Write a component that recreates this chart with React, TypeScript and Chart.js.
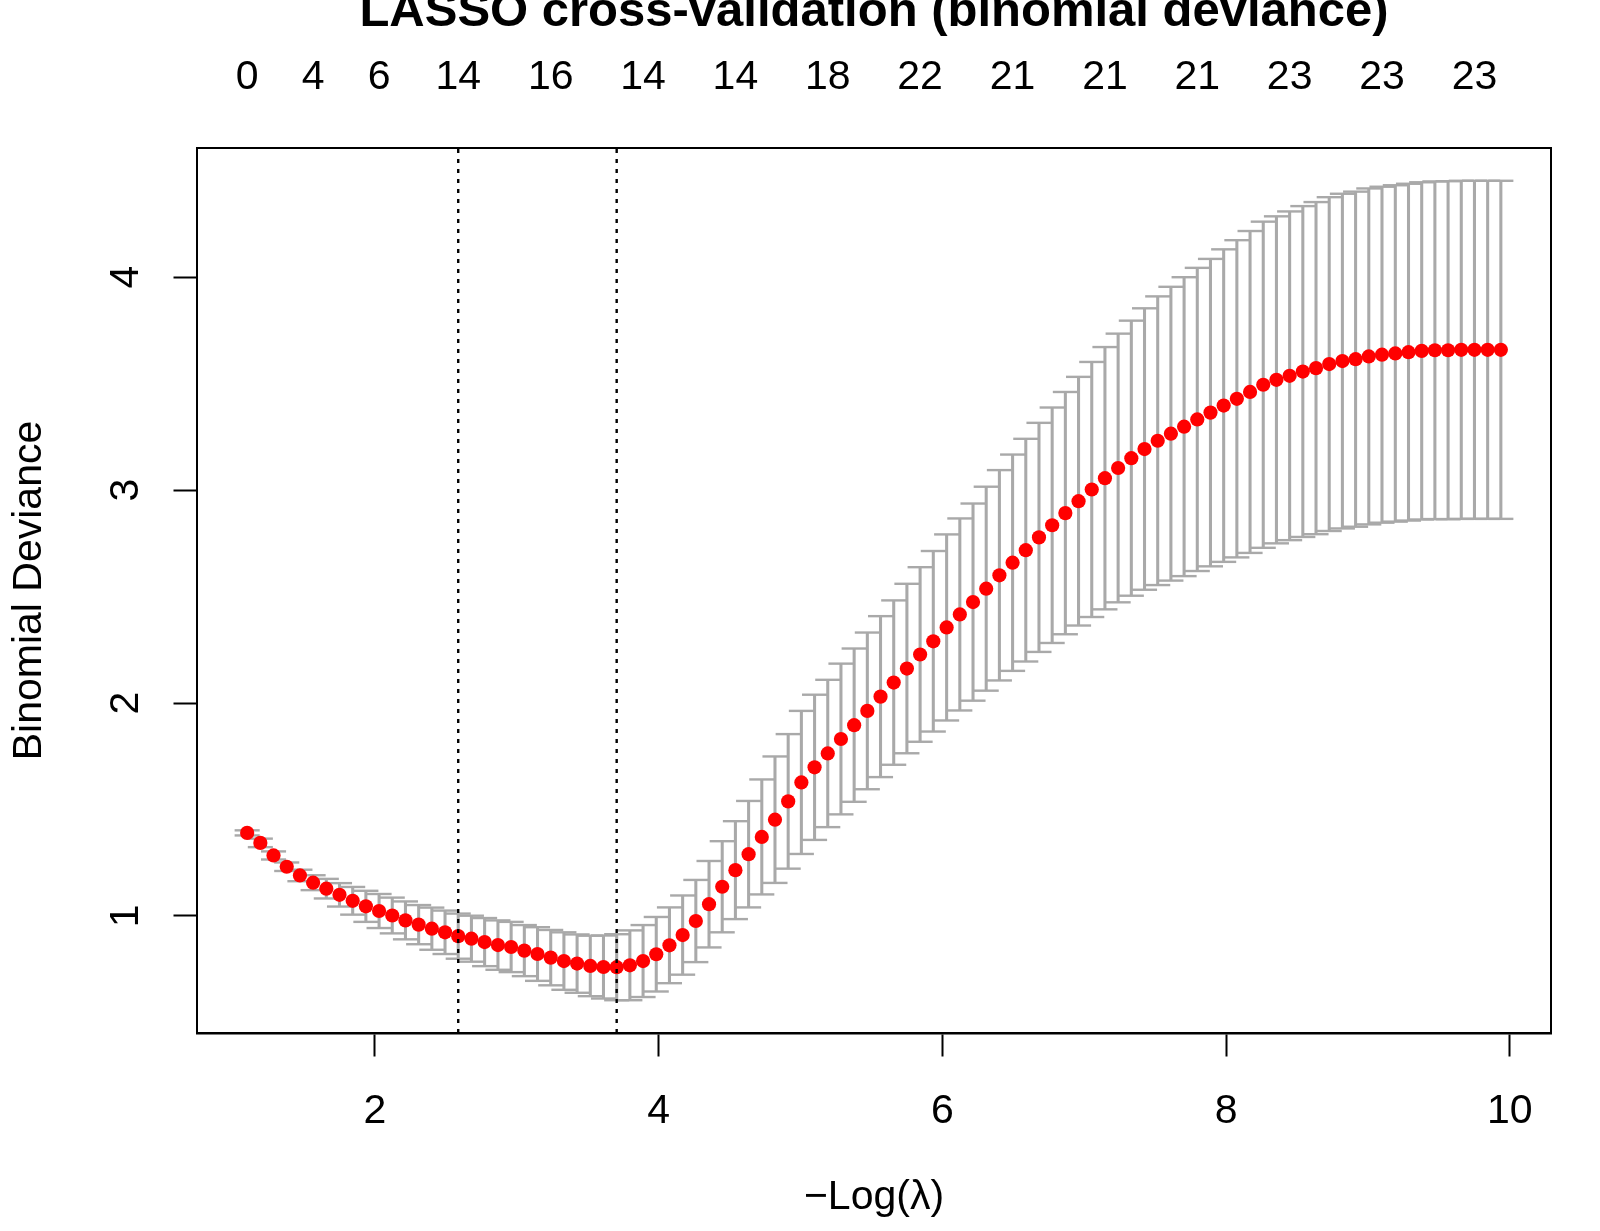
import React, { useEffect, useRef } from "react";
import { Chart, registerables } from "chart.js";

Chart.register(...registerables);

// -log(lambda) for each fitted lambda
const negLogLambda = [
  1.099, 1.192, 1.285, 1.378, 1.471, 1.564, 1.657, 1.750, 1.843, 1.936,
  2.029, 2.122, 2.215, 2.308, 2.401, 2.494, 2.587, 2.680, 2.773, 2.867,
  2.960, 3.053, 3.146, 3.239, 3.332, 3.425, 3.518, 3.611, 3.704, 3.797,
  3.890, 3.983, 4.076, 4.169, 4.262, 4.355, 4.448, 4.541, 4.634, 4.727,
  4.820, 4.913, 5.006, 5.099, 5.192, 5.285, 5.378, 5.471, 5.564, 5.657,
  5.750, 5.843, 5.936, 6.030, 6.123, 6.216, 6.309, 6.402, 6.495, 6.588,
  6.681, 6.774, 6.867, 6.960, 7.053, 7.146, 7.239, 7.332, 7.425, 7.518,
  7.611, 7.704, 7.797, 7.890, 7.983, 8.076, 8.169, 8.262, 8.355, 8.448,
  8.541, 8.634, 8.727, 8.820, 8.913, 9.006, 9.099, 9.193, 9.286, 9.379,
  9.472, 9.565, 9.658, 9.751, 9.844, 9.937,
];

// mean cross-validated binomial deviance
const cvMean = [
  1.390, 1.343, 1.284, 1.231, 1.190, 1.156, 1.128, 1.099, 1.071, 1.045,
  1.023, 1.002, 0.979, 0.959, 0.940, 0.923, 0.905, 0.893, 0.877, 0.863,
  0.854, 0.837, 0.821, 0.804, 0.788, 0.776, 0.765, 0.760, 0.759, 0.768,
  0.788, 0.820, 0.862, 0.910, 0.976, 1.055, 1.137, 1.215, 1.290, 1.371,
  1.452, 1.538, 1.627, 1.698, 1.763, 1.831, 1.896, 1.963, 2.030, 2.096,
  2.162, 2.228, 2.290, 2.355, 2.416, 2.474, 2.537, 2.600, 2.659, 2.718,
  2.778, 2.835, 2.892, 2.948, 3.003, 3.056, 3.104, 3.150, 3.193, 3.232,
  3.265, 3.298, 3.332, 3.364, 3.397, 3.429, 3.461, 3.495, 3.518, 3.537,
  3.557, 3.573, 3.592, 3.606, 3.615, 3.628, 3.636, 3.642, 3.648, 3.654,
  3.657, 3.657, 3.659, 3.659, 3.659, 3.659,
];

// standard error of the cross-validated deviance
const cvSd = [
  0.012, 0.020, 0.019, 0.020, 0.027, 0.035, 0.046, 0.055, 0.065, 0.073,
  0.080, 0.084, 0.089, 0.092, 0.099, 0.102, 0.106, 0.108, 0.113, 0.116,
  0.118, 0.120, 0.126, 0.130, 0.135, 0.137, 0.142, 0.148, 0.155, 0.164,
  0.169, 0.175, 0.178, 0.186, 0.193, 0.203, 0.214, 0.230, 0.250, 0.270,
  0.297, 0.316, 0.336, 0.341, 0.346, 0.354, 0.360, 0.368, 0.378, 0.386,
  0.398, 0.410, 0.424, 0.437, 0.451, 0.463, 0.479, 0.494, 0.508, 0.523,
  0.538, 0.553, 0.569, 0.584, 0.599, 0.616, 0.631, 0.646, 0.661, 0.678,
  0.690, 0.702, 0.712, 0.722, 0.734, 0.745, 0.756, 0.766, 0.768, 0.772,
  0.777, 0.780, 0.784, 0.786, 0.787, 0.789, 0.789, 0.790, 0.791, 0.792,
  0.793, 0.794, 0.794, 0.794, 0.794, 0.794,
];

// number of non-zero coefficients shown on the top axis
const nzeroPositions = [1.099, 1.564, 2.029, 2.587, 3.239, 3.890, 4.541, 5.192, 5.843, 6.495, 7.146, 7.797, 8.448, 9.099, 9.751];
const nzeroLabels = ["0", "4", "6", "14", "16", "14", "14", "18", "22", "21", "21", "21", "23", "23", "23"];

const xTickValues = [2, 4, 6, 8, 10];
const yTickValues = [1, 2, 3, 4];

const lambda1se = 2.587;
const lambdaMin = 3.704;

const titleText = "LASSO cross-validation (binomial deviance)";
const xLabel = "\u2212Log(\u03bb)";
const yLabel = "Binomial Deviance";

const FONT = "'Liberation Sans', Arial, Helvetica, sans-serif";
const GREY = "#a9a9a9";

export default function App() {
  const canvasRef = useRef<HTMLCanvasElement | null>(null);

  useEffect(() => {
    const canvas = canvasRef.current;
    if (!canvas) return;

    const upper = cvMean.map((m, i) => m + cvSd[i]);
    const lower = cvMean.map((m, i) => m - cvSd[i]);
    const xLo = Math.min(...negLogLambda);
    const xHi = Math.max(...negLogLambda);
    const xPad = (xHi - xLo) * 0.04;
    const xMin = xLo - xPad;
    const xMax = xHi + xPad;
    const yLo = Math.min(...lower);
    const yHi = Math.max(...upper);
    const yPad = (yHi - yLo) * 0.04;
    const yMin = yLo - yPad;
    const yMax = yHi + yPad;
    const capHalf = (xHi - xLo) * 0.01;

    const capRadius = (ctx: any) => {
      const s = ctx.chart.scales.x;
      if (!s) return 12.5;
      return Math.abs(s.getPixelForValue(xMin + capHalf) - s.getPixelForValue(xMin));
    };

    const tickFont = { family: FONT, size: 41 };

    const chart = new Chart(canvas, {
      type: "scatter",
      data: {
        datasets: [
          {
            type: "bar",
            data: negLogLambda.map((x, i) => ({ x, y: [lower[i], upper[i]] })) as any,
            backgroundColor: GREY,
            borderWidth: 0,
            barThickness: 2.4,
            grouped: false,
            xAxisID: "x",
            yAxisID: "y",
            order: 5,
          } as any,
          {
            type: "scatter",
            data: negLogLambda.map((x, i) => ({ x, y: upper[i] })),
            pointStyle: "line",
            pointRadius: capRadius,
            pointBorderColor: GREY,
            pointBackgroundColor: GREY,
            pointBorderWidth: 2.4,
            xAxisID: "x",
            yAxisID: "y",
            order: 4,
          } as any,
          {
            type: "scatter",
            data: negLogLambda.map((x, i) => ({ x, y: lower[i] })),
            pointStyle: "line",
            pointRadius: capRadius,
            pointBorderColor: GREY,
            pointBackgroundColor: GREY,
            pointBorderWidth: 2.4,
            xAxisID: "x",
            yAxisID: "y",
            order: 4,
          } as any,
          {
            type: "scatter",
            data: negLogLambda.map((x, i) => ({ x, y: cvMean[i] })),
            pointStyle: "circle",
            pointRadius: 7.1,
            pointBackgroundColor: "#ff0000",
            pointBorderColor: "#ff0000",
            pointBorderWidth: 0,
            xAxisID: "x",
            yAxisID: "y",
            order: 2,
          } as any,
          {
            type: "line",
            data: [
              { x: lambda1se, y: yMin },
              { x: lambda1se, y: yMax },
            ],
            borderColor: "#000",
            borderWidth: 2.4,
            borderDash: [4, 6],
            pointRadius: 0,
            showLine: true,
            fill: false,
            xAxisID: "x",
            yAxisID: "y",
            order: 1,
          } as any,
          {
            type: "line",
            data: [
              { x: lambdaMin, y: yMin },
              { x: lambdaMin, y: yMax },
            ],
            borderColor: "#000",
            borderWidth: 2.4,
            borderDash: [4, 6],
            pointRadius: 0,
            showLine: true,
            fill: false,
            xAxisID: "x",
            yAxisID: "y",
            order: 1,
          } as any,
        ],
      },
      options: {
        responsive: false,
        maintainAspectRatio: false,
        devicePixelRatio: 1,
        animation: false,
        events: [],
        layout: { padding: 0 },
        plugins: {
          legend: { display: false },
          tooltip: { enabled: false },
          title: {
            display: true,
            text: titleText,
            color: "#000",
            fullSize: false,
            font: { family: FONT, size: 49, weight: "bold", lineHeight: "25px" } as any,
            padding: 0,
          },
        },
        scales: {
          x: {
            type: "linear",
            position: "bottom",
            min: xMin,
            max: xMax,
            offset: false,
            afterBuildTicks: (s: any) => {
              s.ticks = xTickValues.map((v) => ({ value: v }));
            },
            afterFit: (s: any) => {
              s.height = 198;
            },
            grid: {
              display: true,
              offset: false,
              drawOnChartArea: false,
              drawTicks: true,
              tickLength: 23.5,
              tickWidth: 2,
              tickColor: "#000",
            },
            border: { display: true, color: "#000", width: 2.5 },
            ticks: {
              color: "#000",
              font: tickFont,
              padding: 31,
              maxRotation: 0,
              minRotation: 0,
              autoSkip: false,
              callback: (v: any) => String(v),
            },
            title: {
              display: true,
              text: xLabel,
              color: "#000",
              font: tickFont,
              padding: { top: 0, bottom: 8.4 },
            },
          },
          x2: {
            type: "linear",
            position: "top",
            axis: "x",
            min: xMin,
            max: xMax,
            offset: false,
            afterBuildTicks: (s: any) => {
              s.ticks = nzeroPositions.map((v) => ({ value: v }));
            },
            afterFit: (s: any) => {
              s.height = 123;
            },
            grid: { display: false, offset: false, drawTicks: false, drawOnChartArea: false },
            border: { display: true, color: "#000", width: 2 },
            ticks: {
              color: "#000",
              font: tickFont,
              padding: 46,
              maxRotation: 0,
              minRotation: 0,
              autoSkip: false,
              callback: (_v: any, i: number) => nzeroLabels[i],
            },
          },
          y: {
            type: "linear",
            position: "left",
            min: yMin,
            max: yMax,
            afterBuildTicks: (s: any) => {
              s.ticks = yTickValues.map((v) => ({ value: v }));
            },
            afterFit: (s: any) => {
              s.width = 197;
            },
            grid: {
              display: true,
              offset: false,
              drawOnChartArea: false,
              drawTicks: true,
              tickLength: 23.5,
              tickWidth: 2,
              tickColor: "#000",
            },
            border: { display: true, color: "#000", width: 2 },
            ticks: {
              color: "#000",
              font: tickFont,
              padding: 35.6,
              minRotation: 90,
              maxRotation: 90,
              crossAlign: "center",
              autoSkip: false,
              callback: (v: any) => String(v),
            },
            title: {
              display: true,
              text: yLabel,
              color: "#000",
              font: tickFont,
              padding: { top: 4.9, bottom: 0 },
            },
          },
          y2: {
            type: "linear",
            position: "right",
            axis: "y",
            min: yMin,
            max: yMax,
            afterFit: (s: any) => {
              s.width = 49;
            },
            grid: { display: false, drawTicks: false, drawOnChartArea: false },
            border: { display: true, color: "#000", width: 2 },
            ticks: { display: false },
          },
        } as any,
      },
    });

    return () => {
      chart.destroy();
    };
  }, []);

  return (
    <div style={{ position: "absolute", left: 0, top: 0, width: 1600, height: 1231, background: "#fff" }}>
      <canvas ref={canvasRef} width={1600} height={1231} style={{ display: "block", width: 1600, height: 1231 }} />
    </div>
  );
}
